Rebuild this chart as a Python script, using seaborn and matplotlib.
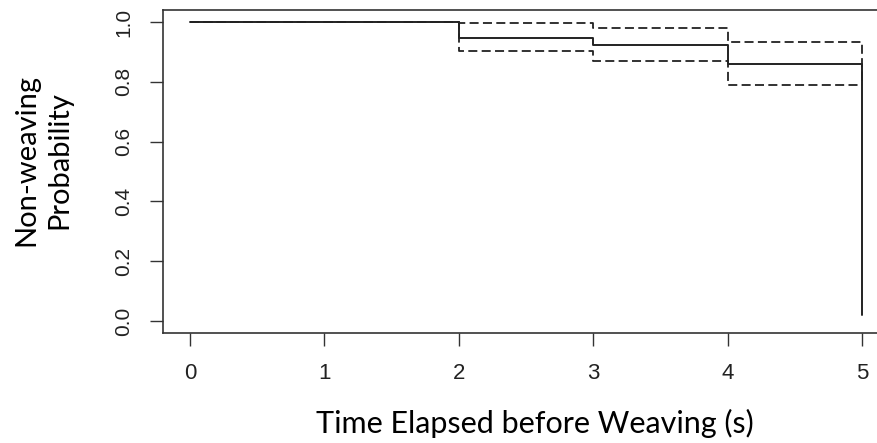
import numpy as np
import pandas as pd
import matplotlib
matplotlib.use("Agg")
import matplotlib.pyplot as plt
import seaborn as sns

# Kaplan-Meier estimate
times = [0, 2, 3, 4, 5]
surv = [1.0, 0.948, 0.924, 0.860, 0.02]
upper = [1.0, 0.996, 0.981, 0.932, 0.790]
lower = [1.0, 0.904, 0.869, 0.790, 0.790]

xticks = [0, 1, 2, 3, 4, 5]
yticks = [0.0, 0.2, 0.4, 0.6, 0.8, 1.0]
ytick_labels = ["0.0", "0.2", "0.4", "0.6", "0.8", "1.0"]

sns.set_style("white")
plt.rcParams['font.family'] = ['Liberation Sans', 'DejaVu Sans']

fig = plt.figure(figsize=(8.77, 4.43), dpi=100)
ax = fig.add_axes([163 / 877, 1 - 333 / 443, (889 - 163) / 877, (333 - 10) / 443])

df = pd.DataFrame({'time': times, 'surv': surv, 'upper': upper, 'lower': lower})

line_col = '#222222'
sns.lineplot(data=df, x='time', y='surv', ax=ax, color=line_col, lw=1.4,
             drawstyle='steps-post', estimator=None, sort=False)
for col in ['upper', 'lower']:
    sns.lineplot(data=df, x='time', y=col, ax=ax, color=line_col, lw=1.3,
                 drawstyle='steps-post', estimator=None, sort=False,
                 linestyle=(0, (5.0, 2.4)))

ax.set_xlim(-0.2, 5.2)
ax.set_ylim(-0.04, 1.04)
ax.set_xticks(xticks)
ax.set_xticklabels([str(t) for t in xticks], fontsize=16, color='#222222')
ax.set_yticks(yticks)
ax.set_yticklabels(ytick_labels, rotation=90, va='center', fontsize=15, color='#222222')
ax.tick_params(axis='both', direction='out', length=9.4, width=1.0, color='#333333',
               bottom=True, left=True)
ax.tick_params(axis='x', pad=12)
ax.tick_params(axis='y', pad=12)
ax.set_xlabel('')
ax.set_ylabel('')
for sp in ax.spines.values():
    sp.set_visible(True)
    sp.set_color('#333333')
    sp.set_linewidth(1.2)

fig.text(43 / 877, 1 - 160 / 443, 'Non-weaving\nProbability', rotation=90,
         ha='center', va='center', multialignment='center', fontsize=21,
         family=['Lato', 'DejaVu Sans'], color='black', linespacing=1.3)
fig.text(535 / 877, 1 - 433 / 443, 'Time Elapsed before Weaving (s)',
         ha='center', va='baseline', fontsize=22, family=['Lato', 'DejaVu Sans'],
         color='black')

fig.savefig('out.png', dpi=100)
